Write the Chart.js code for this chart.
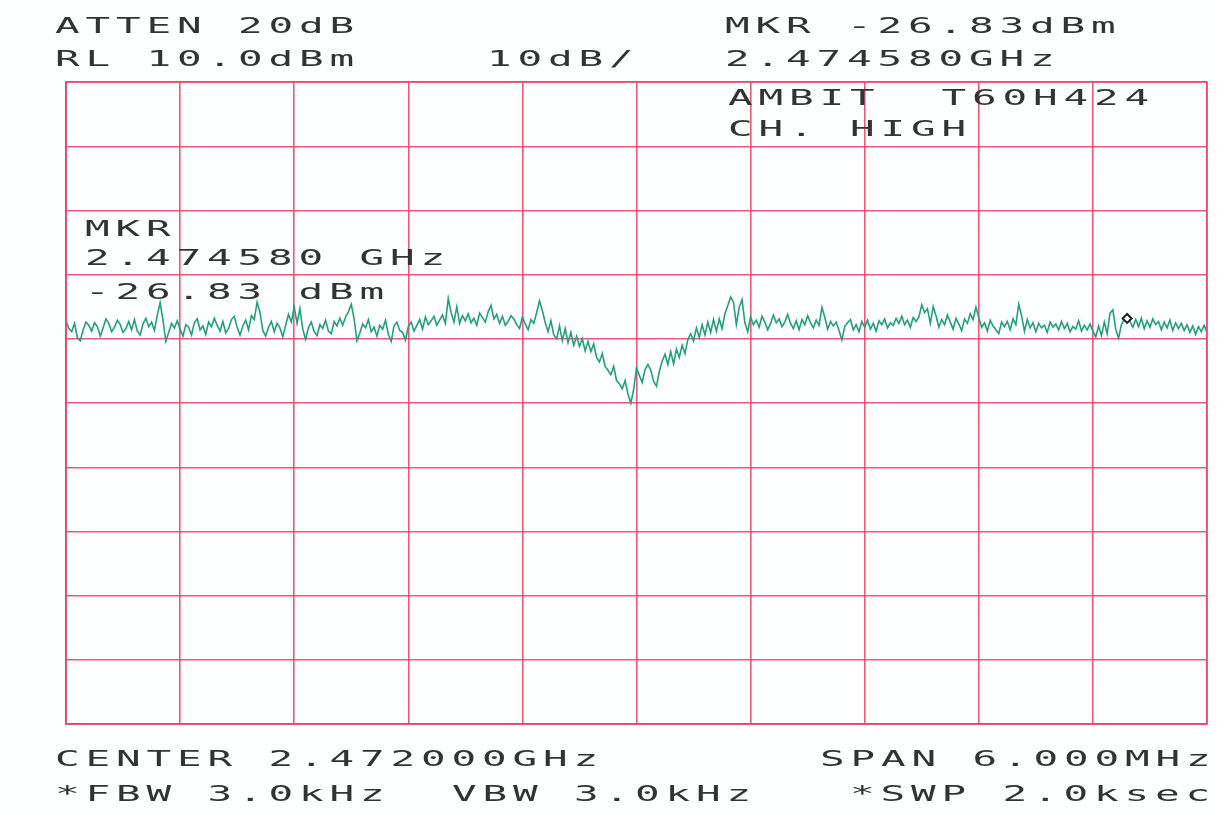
<!DOCTYPE html>
<html>
<head>
<meta charset="utf-8">
<title>Spectrum plot</title>
<script src="https://cdn.jsdelivr.net/npm/chart.js@4.4.1/dist/chart.umd.min.js"></script>
<style>
    html, body { margin: 0; padding: 0; background: #fdfefe; }
    #wrap { position: relative; width: 1217px; height: 814px; overflow: hidden; }
    #plot { position: absolute; left: 0; top: 0; }
    .lbl {
        position: absolute;
        font-family: "DejaVu Sans Mono", monospace;
        font-size: 21px;
        line-height: 21px;
        letter-spacing: 3.0px;
        color: #333;
        white-space: pre;
        transform: scaleX(1.95);
        transform-origin: 0 0;
    }
</style>
</head>
<body>
<div id="wrap">
    <canvas id="plot" width="1217" height="814"></canvas>
</div>

<script>
// sweep: center 2.472 GHz, span 6 MHz, 401 trace points
const startFreqGHz = 2.469;
const stopFreqGHz = 2.475;
const freqTicksGHz = [2.469, 2.4696, 2.4702, 2.4708, 2.4714, 2.472, 2.4726, 2.4732, 2.4738, 2.4744, 2.475];
const levelTicksDbm = [10, 0, -10, -20, -30, -40, -50, -60, -70, -80, -90];

// trace levels (dBm)
const traceDbm = [
    -27.2, -28.4, -28.9, -27.6, -29.8, -30.3, -28.6, -27.4, -27.9, -28.8,
    -27.5, -28.1, -29.6, -28.3, -26.9, -27.6, -28.9, -28.2, -27.1, -27.8,
    -29.0, -28.4, -27.3, -28.6, -27.0, -28.8, -29.4, -27.7, -26.8, -28.1,
    -27.4, -28.7, -26.3, -24.4, -27.1, -30.4, -29.0, -27.6, -28.3, -27.2,
    -28.5, -29.6, -27.8, -28.2, -29.4, -27.5, -26.9, -28.6, -28.0, -29.3,
    -27.4, -28.1, -26.8, -27.9, -28.8, -27.3, -29.1, -28.4, -27.0, -26.5,
    -28.2, -29.4, -28.0, -27.1, -28.6, -26.4, -27.0, -24.3, -25.9, -28.7,
    -29.6, -28.2, -27.3, -28.9, -27.6, -28.3, -29.7, -27.9, -26.2, -27.4,
    -25.0, -27.6, -25.3, -28.5, -30.1, -28.2, -27.4, -28.9, -29.5, -27.8,
    -28.4, -27.1, -28.8, -29.2, -27.3, -28.0, -26.8, -27.9, -26.6, -25.8,
    -24.6, -26.9, -30.3, -29.1, -27.7, -28.3, -27.0, -28.9, -28.2, -29.6,
    -27.9, -28.5, -27.1, -29.3, -30.4, -28.0, -27.4, -28.7, -29.0, -30.2,
    -28.1, -27.4, -28.8, -27.9, -27.0, -28.5, -26.6, -27.8, -27.2, -26.5,
    -27.9, -27.1, -26.3, -27.6, -23.7, -25.9, -27.4, -25.0, -27.6, -26.4,
    -27.2, -26.1, -27.5, -26.8, -27.9, -26.0, -26.7, -27.4, -25.8, -24.8,
    -26.9, -26.2, -27.6, -26.5, -27.9, -27.3, -26.4, -26.9, -27.8, -28.4,
    -26.6, -27.7, -28.6, -27.0, -27.6, -25.9, -24.1, -25.6, -27.5, -28.9,
    -27.2, -29.4, -30.0, -28.0, -30.3, -28.4, -30.6, -29.0, -31.0, -29.6,
    -31.2, -30.0, -31.9, -30.4, -32.0, -30.8, -32.9, -33.6, -32.3, -34.3,
    -34.9, -35.6, -34.3, -36.5, -37.0, -37.8, -36.5, -38.6, -40.0, -37.9,
    -34.5, -35.7, -36.8, -34.8, -34.0, -34.9, -36.6, -37.4, -35.1, -33.5,
    -32.4, -34.0, -32.0, -33.9, -31.6, -32.9, -31.0, -32.3, -30.1, -29.2,
    -30.3, -28.3, -29.8, -27.8, -29.4, -27.4, -29.0, -27.0, -28.8, -26.9,
    -28.4, -26.1, -24.8, -23.5, -24.3, -27.8, -25.1, -23.9, -27.5, -28.9,
    -26.6, -27.8, -27.1, -28.2, -26.5, -27.4, -28.6, -27.6, -26.3, -27.5,
    -26.9, -28.1, -27.4, -26.2, -27.6, -28.4, -27.2, -28.6, -27.0, -27.8,
    -26.4, -27.5, -28.3, -27.1, -27.9, -25.1, -26.6, -28.5, -27.3, -28.0,
    -27.4, -28.7, -30.2, -28.1, -27.5, -27.0, -28.6, -27.8, -28.9, -27.3,
    -28.2, -27.1, -28.5, -27.6, -28.8, -27.2, -27.8, -26.9, -28.3, -27.5,
    -27.9, -26.8, -27.6, -26.5, -27.8, -27.1, -28.2, -26.7, -27.3, -26.6,
    -24.7, -25.9, -25.3, -27.6, -25.0, -26.4, -28.2, -27.0, -27.8, -26.3,
    -27.4, -28.5, -26.8, -27.7, -28.7, -26.9, -27.6, -26.1, -27.0, -25.1,
    -26.7, -28.2, -27.5, -28.8, -27.1, -28.0, -28.6, -29.2, -27.4, -28.1,
    -27.3, -28.6, -26.9, -27.8, -24.6, -26.4, -28.8, -27.0, -28.3, -27.5,
    -28.9, -27.6, -28.3, -27.9, -29.0, -27.4, -28.2, -27.7, -28.6, -27.3,
    -28.4, -27.6, -28.9, -28.1, -28.5, -27.2, -28.8, -27.9, -28.6, -27.7,
    -28.8, -29.7, -28.0, -29.5, -27.4, -29.2, -26.0, -25.5, -28.5, -29.9,
    -27.8, -26.9, -26.83, -27.3, -28.2, -27.0, -28.1, -26.8, -28.4, -27.2,
    -28.2, -26.9, -27.8, -27.3, -28.6, -27.4, -28.3, -27.1, -28.7, -27.5,
    -28.4, -27.6, -28.7, -27.8, -29.0, -28.0, -29.3, -28.1, -28.9, -27.9,
    -29.0
];

const markerFreqGHz = [2.47458];
const markerDbm = [-26.83];

// annotation text as printed by the analyzer plotter
const plotterText = [
    { text: 'ATTEN 20dB',          x: 55,  y: 19 },
    { text: 'RL 10.0dBm',          x: 55,  y: 52 },
    { text: '10dB/',               x: 487, y: 52 },
    { text: 'MKR -26.83dBm',       x: 725, y: 19 },
    { text: '2.474580GHz',         x: 725, y: 52 },
    { text: 'AMBIT  T60H424',      x: 728, y: 91 },
    { text: 'CH. HIGH',            x: 728, y: 122 },
    { text: 'MKR',                 x: 85,  y: 222 },
    { text: '2.474580 GHz',        x: 85,  y: 251 },
    { text: '-26.83 dBm',          x: 85,  y: 285 },
    { text: 'CENTER 2.472000GHz',  x: 55,  y: 752 },
    { text: 'SPAN 6.000MHz',       x: 820, y: 752 },
    { text: '*FBW 3.0kHz',         x: 55,  y: 787 },
    { text: 'VBW 3.0kHz',          x: 452, y: 787 },
    { text: '*SWP 2.0ksec',        x: 850, y: 787 }
];

const stepGHz = (stopFreqGHz - startFreqGHz) / (traceDbm.length - 1);
const tracePoints = traceDbm.map(function (v, i) {
    return { x: startFreqGHz + i * stepGHz, y: v };
});
const markerPoints = markerFreqGHz.map(function (f, i) {
    return { x: f, y: markerDbm[i] };
});

const gridColor = 'rgba(236, 70, 105, 0.9)';

new Chart(document.getElementById('plot'), {
    type: 'line',
    data: {
        datasets: [
            {
                label: 'Marker',
                data: markerPoints,
                showLine: false,
                pointStyle: 'rectRot',
                pointRadius: 4.5,
                pointBorderWidth: 2,
                pointBorderColor: '#222',
                pointBackgroundColor: '#fff'
            },
            {
                label: 'Trace',
                data: tracePoints,
                borderColor: '#23a07a',
                borderWidth: 1.6,
                pointRadius: 0,
                tension: 0
            }
        ]
    },
    options: {
        responsive: false,
        animation: false,
        layout: { padding: { left: 66, top: 82, right: 10, bottom: 90 } },
        plugins: {
            legend: { display: false },
            tooltip: { enabled: false }
        },
        scales: {
            x: {
                type: 'linear',
                min: startFreqGHz,
                max: stopFreqGHz,
                afterBuildTicks: function (scale) {
                    scale.ticks = freqTicksGHz.map(function (v) { return { value: v }; });
                },
                ticks: { display: false },
                grid: { color: gridColor, lineWidth: 1.6, drawTicks: false },
                border: { color: gridColor, width: 1.6 }
            },
            y: {
                type: 'linear',
                min: -90,
                max: 10,
                afterBuildTicks: function (scale) {
                    scale.ticks = levelTicksDbm.map(function (v) { return { value: v }; });
                },
                ticks: { display: false },
                grid: { color: gridColor, lineWidth: 1.4, drawTicks: false },
                border: { color: gridColor, width: 1.6 }
            }
        }
    },
    plugins: [{
        id: 'frame',
        afterDraw: function (chart) {
            const a = chart.chartArea;
            const ctx = chart.ctx;
            ctx.save();
            ctx.strokeStyle = gridColor;
            ctx.lineWidth = 1.6;
            ctx.strokeRect(a.left, a.top, a.right - a.left, a.bottom - a.top);
            ctx.restore();
        }
    }]
});

// plotter annotations as real text
const wrap = document.getElementById('wrap');
plotterText.forEach(function (t) {
    const d = document.createElement('div');
    d.className = 'lbl';
    d.textContent = t.text;
    d.style.left = t.x + 'px';
    d.style.top = (t.y - 3) + 'px';
    wrap.appendChild(d);
});
</script>
</body>
</html>
